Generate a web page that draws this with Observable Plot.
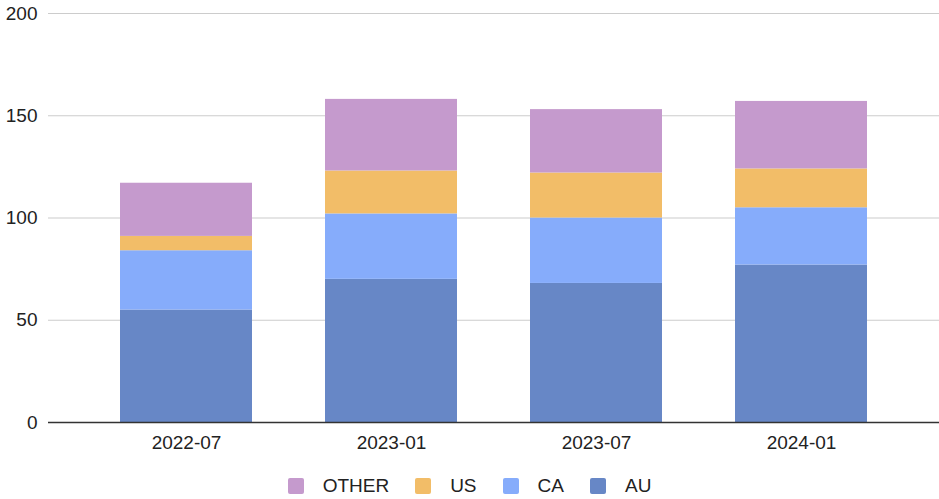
<!DOCTYPE html>
<html>
<head>
<meta charset="utf-8">
<script src="https://cdn.jsdelivr.net/npm/d3@7"></script>
<script src="https://cdn.jsdelivr.net/npm/@observablehq/plot@0.6"></script>
<style>
  body { margin: 0; background: #fff; font-family: "Liberation Sans", Arial, sans-serif; }
  #legend { display: flex; justify-content: center; align-items: center; height: 24px; margin-top: 12px; font-size: 19px; color: #222; }
  .item { display: flex; align-items: center; margin: 0 13px; }
  .sw { width: 16px; height: 16px; border-radius: 2px; margin-right: 19px; }
</style>
</head>
<body>
<div id="chart"></div>
<div id="legend"></div>
<script>
const categories = ["2022-07", "2023-01", "2023-07", "2024-01"];
const seriesNames = ["AU", "CA", "US", "OTHER"];
const AU = [55, 70, 68, 77];
const CA = [29, 32, 32, 28];
const US = [7, 21, 22, 19];
const OTHER = [26, 35, 31, 33];
const colors = ["#6787c6", "#86acfb", "#f2bd68", "#c59acd"];
const yTicks = [0, 50, 100, 150, 200];
const legendOrder = ["OTHER", "US", "CA", "AU"];

const seriesValues = { AU, CA, US, OTHER };
const data = [];
categories.forEach((c, i) => {
  seriesNames.forEach(s => data.push({ cat: c, series: s, value: seriesValues[s][i] }));
});

const plot = Plot.plot({
  width: 939,
  height: 462,
  marginLeft: 48,
  marginRight: 0,
  marginTop: 13,
  marginBottom: 40,
  style: { fontSize: "19px", fontFamily: "'Liberation Sans', Arial, sans-serif", color: "#222", background: "#fff" },
  x: { domain: categories, paddingInner: 0.354, paddingOuter: 0.34, label: null },
  y: { domain: [0, 200], label: null },
  color: { domain: seriesNames, range: colors },
  marks: [
    Plot.ruleY(yTicks.filter(d => d > 0), { stroke: "#cccccc", strokeWidth: 1.2 }),
    Plot.barY(data, { x: "cat", y: "value", fill: "series", order: seriesNames }),
    Plot.ruleY([0], { stroke: "#333", strokeWidth: 1.5 }),
    Plot.axisY({ ticks: yTicks, tickSize: 0, tickPadding: 11, label: null }),
    Plot.axisX({ tickSize: 0, tickPadding: 13, label: null })
  ]
});
document.getElementById("chart").appendChild(plot);

const colorScale = plot.scale("color");
const leg = d3.select("#legend");
legendOrder.forEach(s => {
  const it = leg.append("div").attr("class", "item");
  it.append("div").attr("class", "sw").style("background", colorScale.apply(s));
  it.append("span").text(s);
});
</script>
</body>
</html>
